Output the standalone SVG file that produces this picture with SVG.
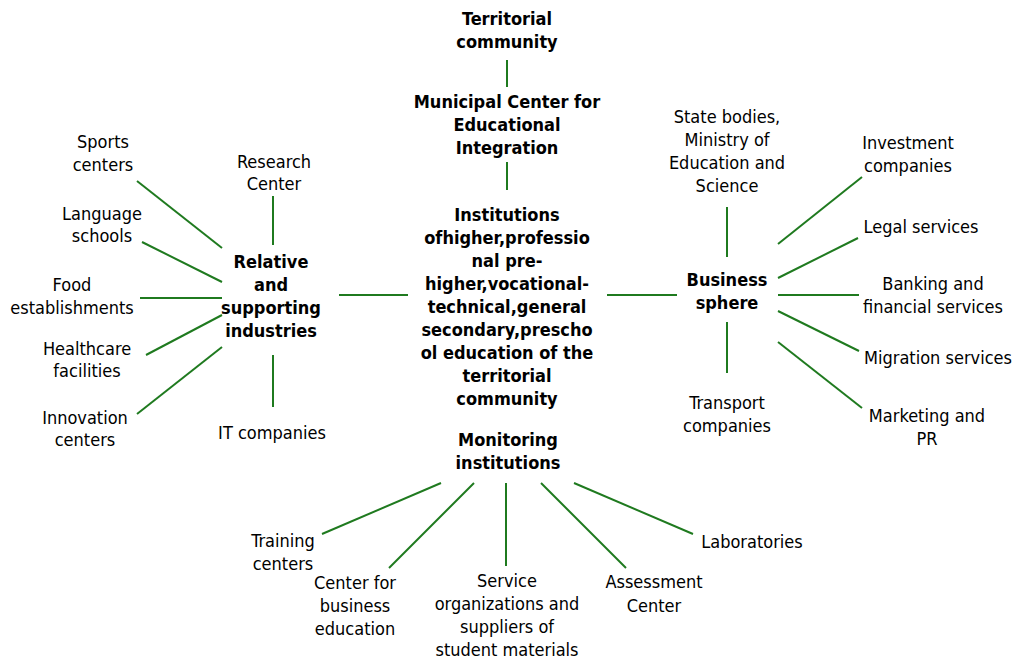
<svg xmlns="http://www.w3.org/2000/svg" width="1015" height="658" viewBox="0 0 1015 658">
<style>
text{font-family:"DejaVu Sans Condensed","DejaVu Sans",sans-serif;font-stretch:condensed;font-size:18px;fill:#000;text-anchor:middle}
.b{font-weight:bold}
#connectors line{stroke:#1f7a1f;stroke-width:2}
</style>
<rect width="1015" height="658" fill="#fff"/>
<g id="connectors">
<line x1="507" y1="60" x2="507" y2="87"/>
<line x1="507" y1="162" x2="507" y2="190"/>
<line x1="339" y1="295" x2="408" y2="295"/>
<line x1="607" y1="295" x2="677" y2="295"/>
<line x1="137" y1="181" x2="222" y2="248"/>
<line x1="142" y1="242" x2="222" y2="282"/>
<line x1="140" y1="298" x2="222" y2="298"/>
<line x1="146" y1="355" x2="222" y2="315"/>
<line x1="137" y1="414" x2="222" y2="347"/>
<line x1="273" y1="196" x2="273" y2="245"/>
<line x1="273" y1="355" x2="273" y2="407"/>
<line x1="727" y1="207" x2="727" y2="257"/>
<line x1="727" y1="322" x2="727" y2="373"/>
<line x1="778" y1="244" x2="862" y2="177"/>
<line x1="778" y1="278" x2="858" y2="238"/>
<line x1="778" y1="295" x2="859" y2="295"/>
<line x1="778" y1="311" x2="859" y2="351"/>
<line x1="778" y1="342" x2="862" y2="408"/>
<line x1="441" y1="483" x2="322" y2="534"/>
<line x1="474" y1="483" x2="389" y2="568"/>
<line x1="506" y1="483" x2="506" y2="566"/>
<line x1="541" y1="483" x2="626" y2="568"/>
<line x1="574" y1="483" x2="693" y2="534"/>
</g>
<g id="territorial-community"><text class="b" x="507" y="25">Territorial</text><text class="b" x="507" y="48">community</text></g>
<g id="municipal-center"><text class="b" x="507" y="108">Municipal Center for</text><text class="b" x="507" y="131">Educational</text><text class="b" x="507" y="154">Integration</text></g>
<g id="institutions">
<text class="b" x="507" y="221">Institutions</text>
<text class="b" x="507" y="244">ofhigher,professio</text>
<text class="b" x="507" y="267">nal pre-</text>
<text class="b" x="507" y="290">higher,vocational-</text>
<text class="b" x="507" y="313">technical,general</text>
<text class="b" x="507" y="336">secondary,prescho</text>
<text class="b" x="507" y="359">ol education of the</text>
<text class="b" x="507" y="382">territorial</text>
<text class="b" x="507" y="405">community</text>
</g>
<g id="monitoring"><text class="b" x="508" y="446">Monitoring</text><text class="b" x="508" y="469">institutions</text></g>
<g id="relative"><text class="b" x="271" y="268">Relative</text><text class="b" x="271" y="291">and</text><text class="b" x="271" y="314">supporting</text><text class="b" x="271" y="337">industries</text></g>
<g id="business"><text class="b" x="727" y="286">Business</text><text class="b" x="727" y="309">sphere</text></g>
<g id="sports"><text x="103" y="148">Sports</text><text x="103" y="171">centers</text></g>
<g id="research"><text x="274" y="168">Research</text><text x="274" y="190">Center</text></g>
<g id="language"><text x="102" y="220">Language</text><text x="102" y="242">schools</text></g>
<g id="food"><text x="72" y="291">Food</text><text x="72" y="314">establishments</text></g>
<g id="healthcare"><text x="87" y="355">Healthcare</text><text x="87" y="377">facilities</text></g>
<g id="innovation"><text x="85" y="424">Innovation</text><text x="85" y="446">centers</text></g>
<g id="it"><text x="272" y="439">IT companies</text></g>
<g id="state"><text x="727" y="123">State bodies,</text><text x="727" y="146">Ministry of</text><text x="727" y="169">Education and</text><text x="727" y="192">Science</text></g>
<g id="investment"><text x="908" y="149">Investment</text><text x="908" y="172">companies</text></g>
<g id="legal"><text x="921" y="233">Legal services</text></g>
<g id="banking"><text x="933" y="290">Banking and</text><text x="933" y="313">financial services</text></g>
<g id="migration"><text x="938" y="364">Migration services</text></g>
<g id="marketing"><text x="927" y="422">Marketing and</text><text x="927" y="445">PR</text></g>
<g id="transport"><text x="727" y="409">Transport</text><text x="727" y="432">companies</text></g>
<g id="training"><text x="283" y="547">Training</text><text x="283" y="570">centers</text></g>
<g id="business-education"><text x="355" y="589">Center for</text><text x="355" y="612">business</text><text x="355" y="635">education</text></g>
<g id="service"><text x="507" y="587">Service</text><text x="507" y="610">organizations and</text><text x="507" y="633">suppliers of</text><text x="507" y="656">student materials</text></g>
<g id="assessment"><text x="654" y="588">Assessment</text><text x="654" y="612">Center</text></g>
<g id="laboratories"><text x="752" y="548">Laboratories</text></g>
</svg>
